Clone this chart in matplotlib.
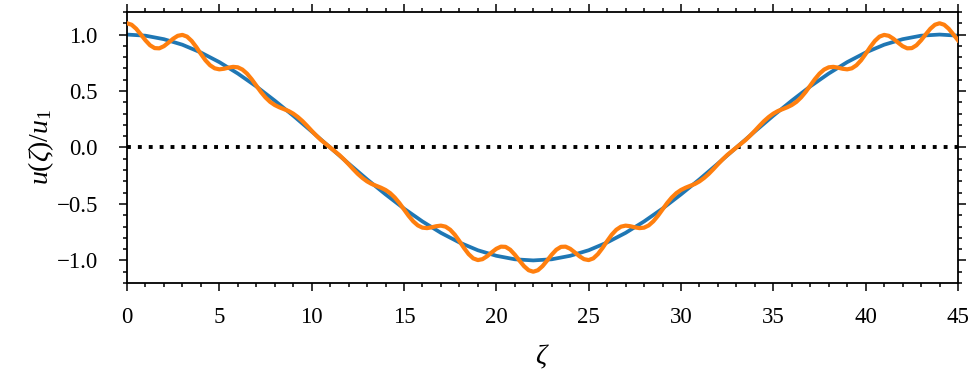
import numpy as np
import matplotlib
matplotlib.use("Agg")
import matplotlib.pyplot as plt
from matplotlib.ticker import MultipleLocator

plt.rcParams['font.family'] = ['Liberation Serif', 'DejaVu Serif']
plt.rcParams['mathtext.fontset'] = 'custom'
plt.rcParams['mathtext.rm'] = 'Liberation Serif'
plt.rcParams['mathtext.it'] = 'Liberation Serif:italic'

# fundamental mode, sampled every 1.0 in zeta
zeta_fund = np.arange(0, 45.001, 1.0)
u_fund = [
    1.000, 0.990, 0.959, 0.910, 0.841, 0.756, 0.655, 0.541, 0.415, 0.282, 0.142, 0.000,
    -0.142, -0.282, -0.415, -0.541, -0.655, -0.756, -0.841, -0.910, -0.959, -0.990, -1.000, -0.990,
    -0.959, -0.910, -0.841, -0.756, -0.655, -0.541, -0.415, -0.282, -0.142, -0.000, 0.142, 0.282,
    0.415, 0.541, 0.655, 0.756, 0.841, 0.910, 0.959, 0.990, 1.000, 0.990,
]

# modulated profile, sampled every 0.25 in zeta
zeta_mod = np.arange(0, 45.001, 0.25)
u_mod = [
    1.100, 1.087, 1.051, 1.001, 0.949, 0.905, 0.880, 0.878, 0.897, 0.929, 0.963, 0.989,
    0.997, 0.982, 0.944, 0.890, 0.829, 0.772, 0.728, 0.701, 0.692, 0.697, 0.707, 0.714,
    0.710, 0.690, 0.654, 0.605, 0.548, 0.492, 0.443, 0.404, 0.376, 0.356, 0.340, 0.323,
    0.300, 0.270, 0.234, 0.192, 0.148, 0.106, 0.067, 0.033, 0.000, -0.033, -0.067, -0.106,
    -0.148, -0.192, -0.234, -0.270, -0.300, -0.323, -0.340, -0.356, -0.376, -0.404, -0.443, -0.492,
    -0.548, -0.605, -0.654, -0.690, -0.710, -0.714, -0.707, -0.697, -0.692, -0.701, -0.728, -0.772,
    -0.829, -0.890, -0.944, -0.982, -0.997, -0.989, -0.963, -0.929, -0.897, -0.878, -0.880, -0.905,
    -0.949, -1.001, -1.051, -1.087, -1.100, -1.087, -1.051, -1.001, -0.949, -0.905, -0.880, -0.878,
    -0.897, -0.929, -0.963, -0.989, -0.997, -0.982, -0.944, -0.890, -0.829, -0.772, -0.728, -0.701,
    -0.692, -0.697, -0.707, -0.714, -0.710, -0.690, -0.654, -0.605, -0.548, -0.492, -0.443, -0.404,
    -0.376, -0.356, -0.340, -0.323, -0.300, -0.270, -0.234, -0.192, -0.148, -0.106, -0.067, -0.033,
    -0.000, 0.033, 0.067, 0.106, 0.148, 0.192, 0.234, 0.270, 0.300, 0.323, 0.340, 0.356,
    0.376, 0.404, 0.443, 0.492, 0.548, 0.605, 0.654, 0.690, 0.710, 0.714, 0.707, 0.697,
    0.692, 0.701, 0.728, 0.772, 0.829, 0.890, 0.944, 0.982, 0.997, 0.989, 0.963, 0.929,
    0.897, 0.878, 0.880, 0.905, 0.949, 1.001, 1.051, 1.087, 1.100, 1.087, 1.051, 1.001,
    0.949,
]

fig = plt.figure(figsize=(9.73, 3.74), dpi=100)
ax = fig.add_axes([0.1305, 0.2433, 0.8541, 0.7247])

ax.plot([0, 45], [0, 0], color='black', lw=2.8, dashes=(1, 1.8), dash_capstyle='butt', zorder=1)
ax.plot(zeta_fund, u_fund, color='#1f77b4', lw=2.7, zorder=2)
ax.plot(zeta_mod, u_mod, color='#ff7f0e', lw=3.0, zorder=3)

ax.set_xlim(0, 45)
ax.set_ylim(-1.2, 1.2)
ax.xaxis.set_major_locator(MultipleLocator(5))
ax.xaxis.set_minor_locator(MultipleLocator(1))
ax.yaxis.set_major_locator(MultipleLocator(0.5))
ax.yaxis.set_minor_locator(MultipleLocator(0.1))
ax.tick_params(which='both', direction='out', top=True, right=True, width=1.1,
               labelsize=16.5, colors='black')
ax.tick_params(which='major', length=6)
ax.tick_params(which='minor', length=3.1)
ax.tick_params(axis='x', which='major', pad=11)
ax.tick_params(axis='y', which='major', pad=15)
for sp in ax.spines.values():
    sp.set_linewidth(1.3)

ax.set_xlabel(r'$\zeta$', fontsize=20, labelpad=11)
ax.set_ylabel(r'$u(\zeta)/u_1$', fontsize=20, labelpad=0.5)

fig.savefig('out.png', dpi=100)
